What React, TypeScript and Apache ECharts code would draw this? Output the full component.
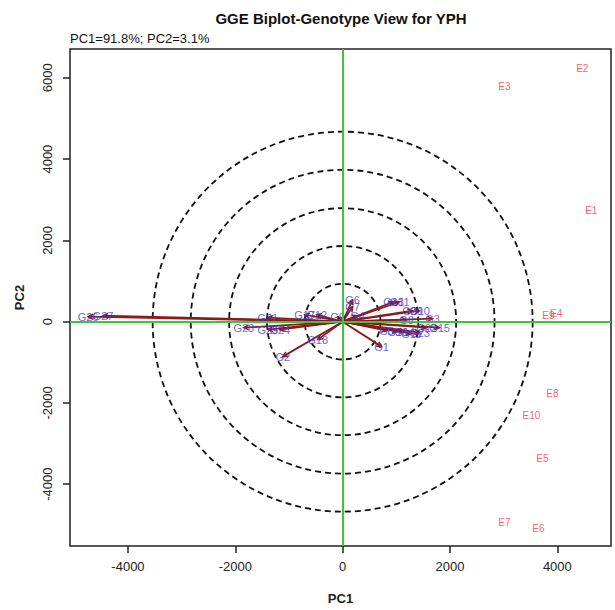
import { useEffect, useRef } from "react";
import * as echarts from "echarts";

const titleText = "GGE Biplot-Genotype View for YPH";
const subtitleText = "PC1=91.8%; PC2=3.1%";
const xTicks = [-4000, -2000, 0, 2000, 4000];
const yTicks = [-4000, -2000, 0, 2000, 4000, 6000];

const envNames = ["E1", "E2", "E3", "E4", "E9", "E8", "E10", "E5", "E7", "E6"];
const envPC1 = [4633, 4465, 3014, 3981, 3833, 3907, 3516, 3721, 3014, 3647];
const envPC2 = [2727, 6240, 5799, 197, 147, -1769, -2310, -3366, -4939, -5086];

const genoNames = [
  "G26", "G27", "G28", "G25", "G24", "G21", "G17", "G12", "G18", "G2",
  "G9", "G6", "G7", "G4", "G13", "G11", "G20", "G10", "G3", "G22",
  "G15", "G5", "G16", "G14", "G19", "G23", "G8", "G1",
];
const genoPC1 = [
  -4744, -4465, -1842, -1395, -1172, -1395, -707, -484, -465, -1116,
  -93, 186, 186, 279, 949, 1060, 1302, 1433, 1674, 1563,
  1805, 819, 1023, 1153, 1284, 1433, 1191, 726,
];
const genoPC2 = [
  123, 147, -147, -197, -197, 98, 172, 172, -442, -860,
  123, 541, 369, 147, 491, 491, 270, 270, 74, -147,
  -147, -221, -246, -246, -295, -270, 49, -614,
];

const ringRadii = [705, 1410, 2115, 2830, 3540];

const FONT = '"Liberation Sans", Arial, sans-serif';

export default function App() {
  const ref = useRef<HTMLDivElement>(null);

  useEffect(() => {
    if (!ref.current) return;
    const chart = echarts.init(ref.current, undefined, { renderer: "svg" });

    const genoData = genoNames.map((n, i) => ({ name: n, value: [genoPC1[i], genoPC2[i]] }));
    const envData = envNames.map((n, i) => ({ name: n, value: [envPC1[i], envPC2[i]] }));
    const plain = (v: number) => String(v);

    chart.setOption({
      animation: false,
      backgroundColor: "#ffffff",
      textStyle: { fontFamily: FONT },
      grid: {
        left: 70,
        right: 4,
        top: 49,
        bottom: 63,
        show: true,
        borderColor: "#222",
        borderWidth: 1.5,
        backgroundColor: "transparent",
      },
      graphic: [
        {
          type: "text",
          x: 341,
          y: 18,
          style: {
            text: titleText,
            textAlign: "center",
            textVerticalAlign: "middle",
            font: `bold 15px ${FONT}`,
            fill: "#111",
          },
        },
        {
          type: "text",
          x: 70,
          y: 38,
          style: {
            text: subtitleText,
            textAlign: "left",
            textVerticalAlign: "middle",
            font: `13px ${FONT}`,
            fill: "#111",
          },
        },
      ],
      xAxis: {
        type: "value",
        min: -5080,
        max: 5000,
        splitLine: { show: false },
        axisLine: { show: false, onZero: false },
        axisTick: { show: true, length: 7, customValues: xTicks, lineStyle: { color: "#222", width: 1.5 } },
        axisLabel: { customValues: xTicks, formatter: plain, color: "#222", fontSize: 13, margin: 14, fontFamily: FONT },
        name: "PC1",
        nameLocation: "middle",
        nameGap: 46,
        nameTextStyle: { color: "#222", fontSize: 13, fontWeight: "bold", fontFamily: FONT },
      },
      yAxis: {
        type: "value",
        min: -5520,
        max: 6710,
        splitLine: { show: false },
        axisLine: { show: false, onZero: false },
        axisTick: { show: true, length: 7, customValues: yTicks, lineStyle: { color: "#222", width: 1.5 } },
        axisLabel: { customValues: yTicks, formatter: plain, color: "#222", fontSize: 13, margin: 16, rotate: 90, fontFamily: FONT },
        name: "PC2",
        nameLocation: "middle",
        nameGap: 44,
        nameRotate: 90,
        nameTextStyle: { color: "#222", fontSize: 13, fontWeight: "bold", fontFamily: FONT },
      },
      series: [
        {
          type: "custom",
          name: "rings",
          data: ringRadii.map((r) => [r, 0]),
          silent: true,
          z: 1,
          renderItem: (params: any, api: any) => {
            const c = api.coord([0, 0]);
            const r = api.size([api.value(0), 0])[0];
            return {
              type: "circle",
              shape: { cx: c[0], cy: c[1], r },
              style: { fill: "none", stroke: "#111", lineWidth: 1.8, lineDash: [6, 4] },
            };
          },
        },
        {
          type: "custom",
          name: "vectors",
          data: genoData.map((d) => d.value),
          silent: true,
          z: 2,
          renderItem: (params: any, api: any) => {
            const o = api.coord([0, 0]);
            const p = api.coord([api.value(0), api.value(1)]);
            const dx = p[0] - o[0];
            const dy = p[1] - o[1];
            const len = Math.sqrt(dx * dx + dy * dy) || 1;
            const ux = dx / len;
            const uy = dy / len;
            const h = 5;
            const w = 2.5;
            const bx = p[0] - ux * h;
            const by = p[1] - uy * h;
            return {
              type: "group",
              children: [
                {
                  type: "line",
                  shape: { x1: o[0], y1: o[1], x2: p[0], y2: p[1] },
                  style: { stroke: "#8b1a1a", lineWidth: 1.8 },
                },
                {
                  type: "polyline",
                  shape: {
                    points: [
                      [bx - uy * w, by + ux * w],
                      [p[0], p[1]],
                      [bx + uy * w, by - ux * w],
                    ],
                  },
                  style: { stroke: "#8b1a1a", lineWidth: 1.5, fill: "none" },
                },
              ],
            };
          },
        },
        {
          type: "scatter",
          name: "axes0",
          data: [],
          z: 3,
          markLine: {
            silent: true,
            symbol: "none",
            label: { show: false },
            lineStyle: { color: "#3ec43e", width: 2, type: "solid" },
            data: [{ xAxis: 0 }, { yAxis: 0 }],
          },
        },
        {
          type: "scatter",
          name: "genotypes",
          data: genoData,
          symbolSize: 1,
          itemStyle: { color: "transparent" },
          z: 4,
          label: {
            show: true,
            position: "inside",
            formatter: "{b}",
            color: "#3b3bd4",
            fontSize: 11,
            fontFamily: FONT,
          },
        },
        {
          type: "scatter",
          name: "environments",
          data: envData,
          symbolSize: 1,
          itemStyle: { color: "transparent" },
          z: 4,
          label: {
            show: true,
            position: "inside",
            formatter: "{b}",
            color: "#f03a3a",
            fontSize: 10,
            fontFamily: FONT,
          },
        },
      ],
    });

    return () => chart.dispose();
  }, []);

  return (
    <div
      ref={ref}
      style={{ position: "absolute", left: 0, top: 0, width: 615, height: 610, background: "#fff" }}
    />
  );
}
